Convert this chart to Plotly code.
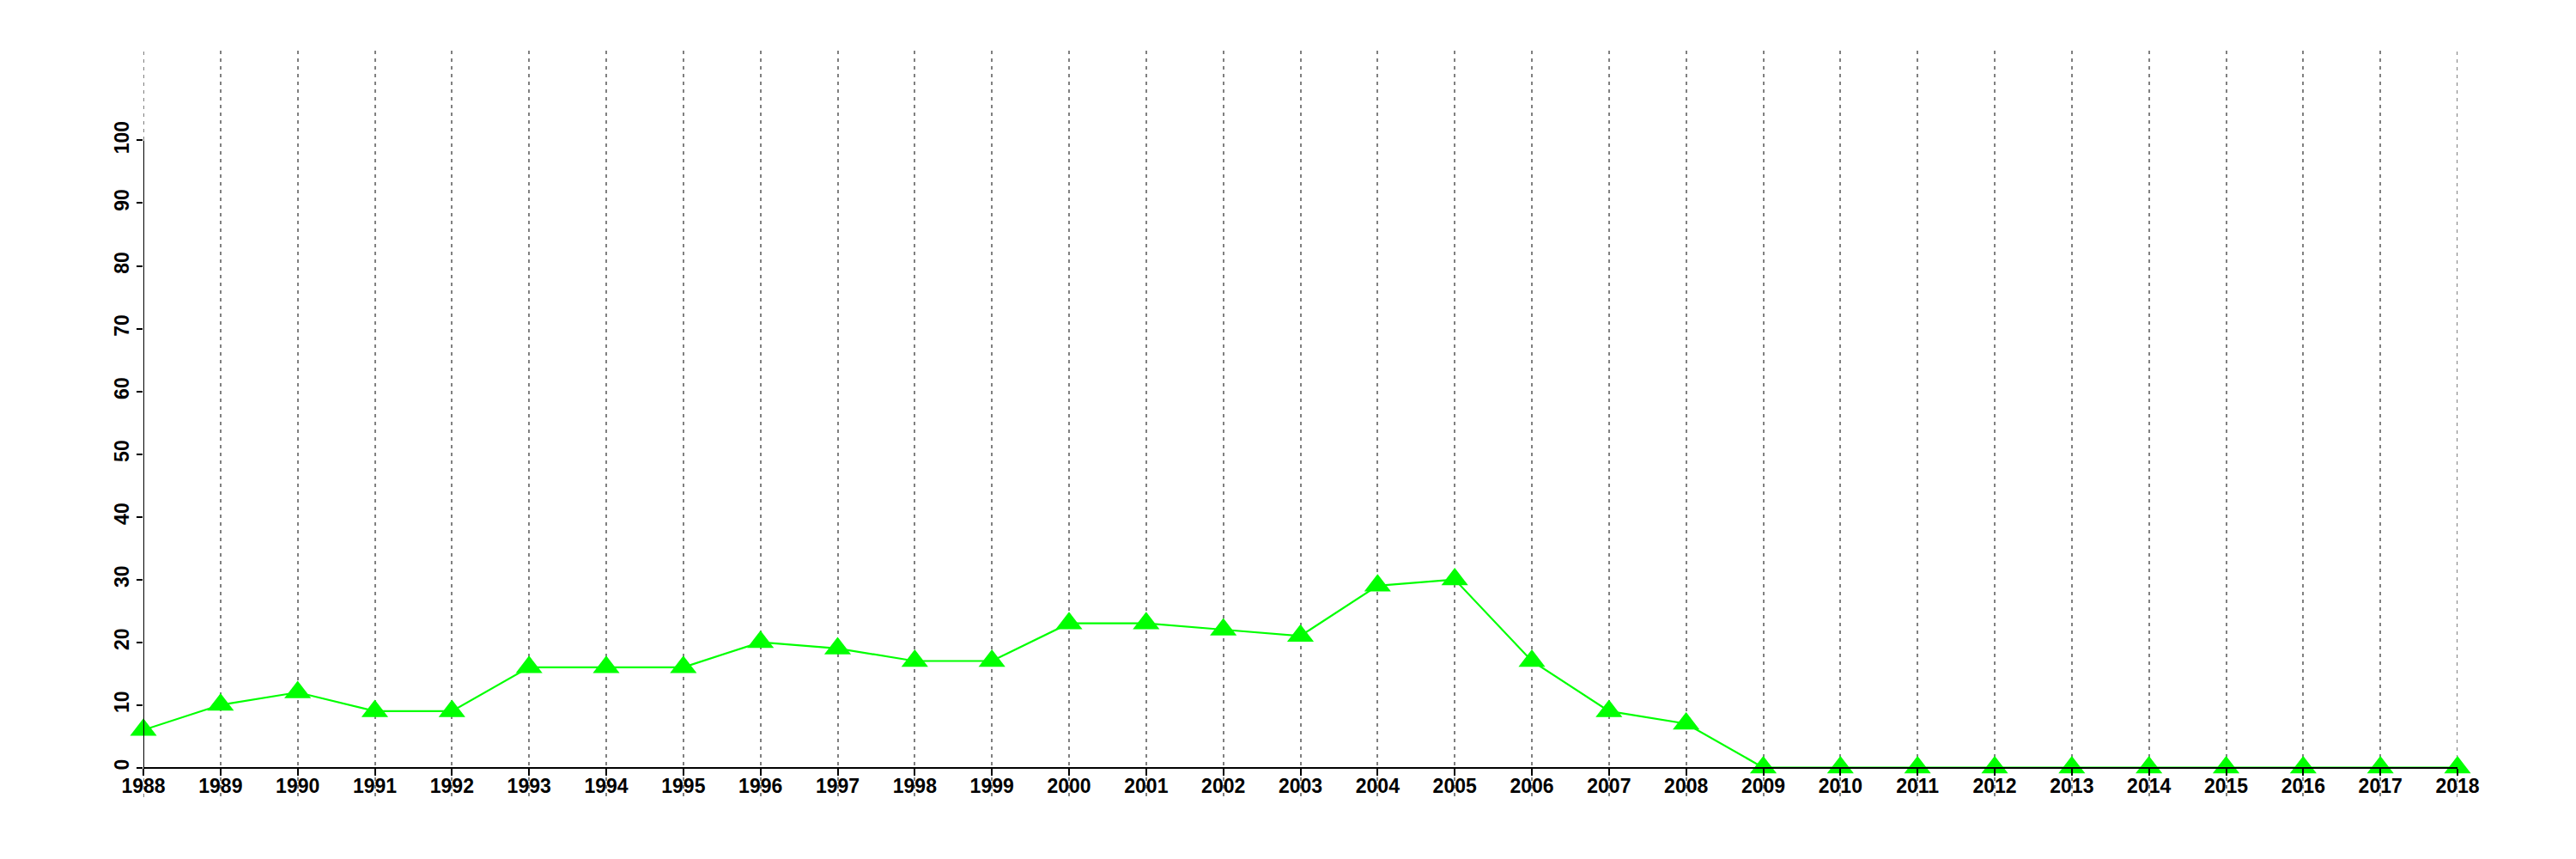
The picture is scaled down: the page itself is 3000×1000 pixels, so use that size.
import plotly.graph_objects as go

years = list(range(1988, 2019))
values = [6, 10, 12, 9, 9, 16, 16, 16, 20, 19, 17, 17, 23, 23, 22, 21, 29, 30, 17, 9, 7,
          0, 0, 0, 0, 0, 0, 0, 0, 0, 0]
y_ticks = [0, 10, 20, 30, 40, 50, 60, 70, 80, 90, 100]

Y_LO, Y_HI = -4.71, 114.31
font = dict(family="Liberation Sans, Arial, sans-serif", size=23, color="black", weight="bold")
grid = dict(color="#808080", width=2, dash="4px,5px")

fig = go.Figure()
fig.add_trace(go.Scatter(
    x=years, y=values, mode="lines+markers",
    line=dict(color="#00FF00", width=2.2),
    marker=dict(symbol="triangle-up", size=27, color="#00FF00", line=dict(width=0)),
    cliponaxis=False, showlegend=False,
))

# gridlines at the range edges (plotly omits them)
for yr in (years[0], years[-1]):
    fig.add_shape(type="line", xref="x", yref="paper", x0=yr, x1=yr, y0=0, y1=1,
                  line=grid, layer="below")

# y axis line drawn only from 0 to 100
fig.add_shape(type="line", xref="x", yref="y", x0=years[0], x1=years[0], y0=y_ticks[0], y1=y_ticks[-1],
              line=dict(color="black", width=2), layer="above")

fig.update_layout(
    width=3000, height=1000,
    margin=dict(l=158.5, r=146, t=51, b=80, autoexpand=False),
    paper_bgcolor="white", plot_bgcolor="white",
    xaxis=dict(
        range=[years[0], years[-1]], tickmode="array", tickvals=years,
        ticktext=[str(y) for y in years],
        showgrid=True, gridcolor=grid["color"], gridwidth=grid["width"], griddash=grid["dash"],
        showline=True, linecolor="black", linewidth=2,
        ticks="outside", ticklen=8, tickwidth=2, tickcolor="black",
        tickfont=font, zeroline=False, automargin=False, ticklabelstandoff=-7,
        anchor="free", position=(0 - Y_LO) / (Y_HI - Y_LO),
    ),
    yaxis=dict(
        range=[Y_LO, Y_HI], tickmode="array", tickvals=y_ticks,
        showgrid=False, zeroline=False, showline=False, automargin=False,
        ticks="outside", ticklen=7, tickwidth=2, tickcolor="black",
        tickfont=font, tickangle=-90,
    ),
)

fig.write_html("out.html")
